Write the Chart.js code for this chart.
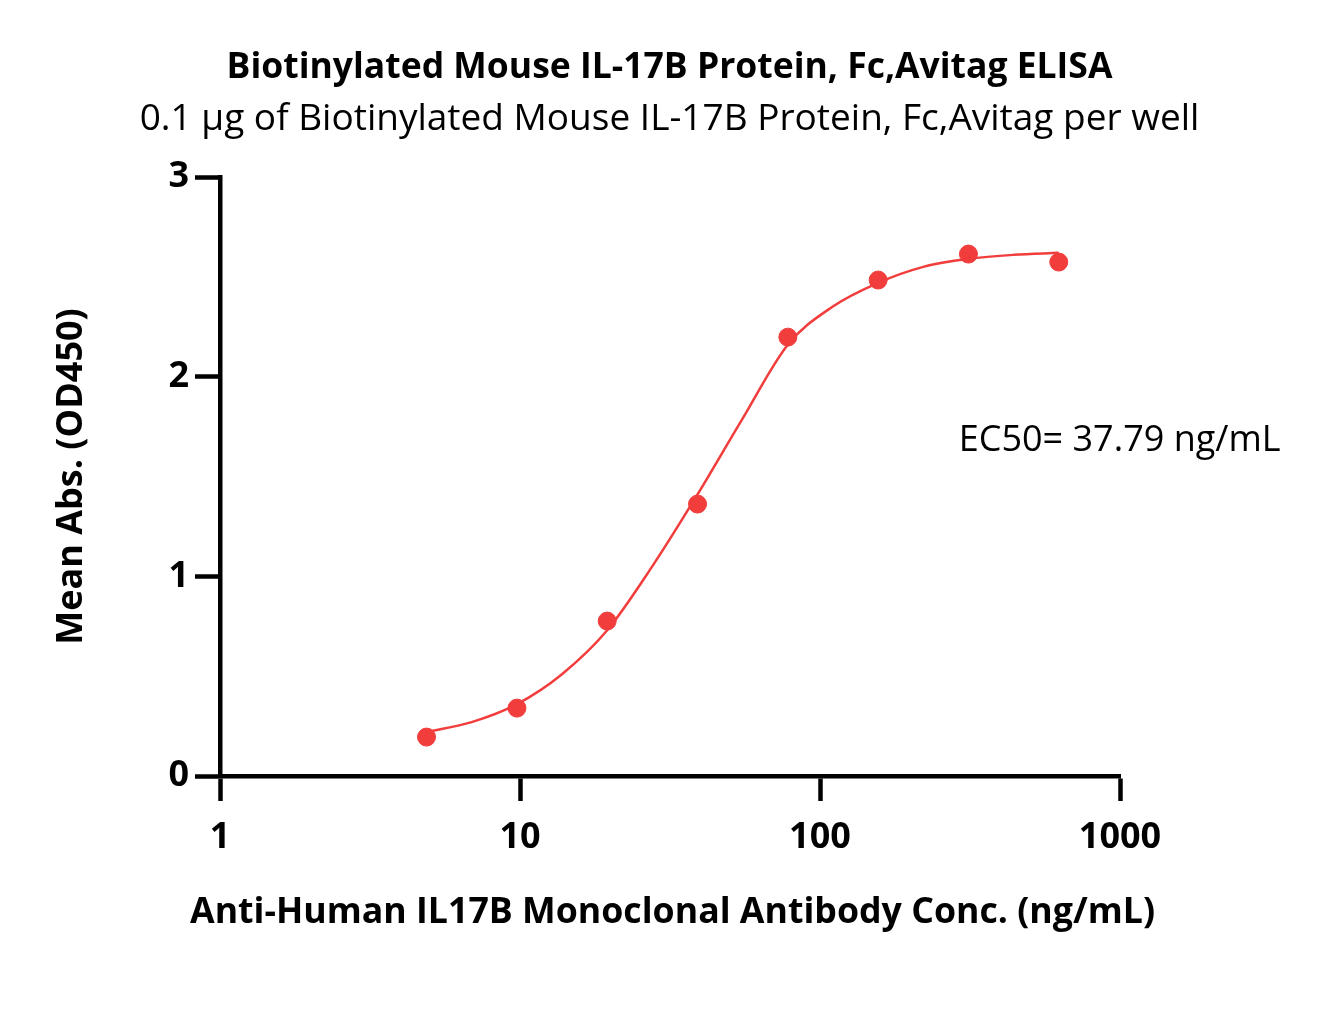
<!DOCTYPE html>
<html lang="en">
<head>
    <meta charset="UTF-8">
    <title>IL-17B ELISA</title>
    <script src="https://cdn.jsdelivr.net/npm/chart.js"></script>
    <style>
        body { margin: 0; background: #fff; }
        .box { width: 1327px; height: 1032px; position: relative; }
    </style>
</head>
<body>
    <div class="box">
        <canvas id="grafico"></canvas>
    </div>

<script>
    // measured points
    const conc = [4.88, 9.77, 19.53, 39.06, 78.13, 156.25, 312.5, 625];
    const absorb = [0.195, 0.34, 0.776, 1.362, 2.198, 2.484, 2.614, 2.574];

    // fitted curve
    const curveConc = [4.88, 6.9, 9.77, 13.8, 19.53, 27.6, 39.06, 55.2, 78.13, 110, 156.25, 221, 312.5, 442, 625];
    const curveAbs = [0.22, 0.27, 0.36, 0.51, 0.73, 1.05, 1.41, 1.79, 2.16, 2.35, 2.47, 2.55, 2.59, 2.61, 2.62];

    const xTicks = [1, 10, 100, 1000];
    const yTicks = [0, 1, 2, 3];

    const ec50Label = 'EC50= 37.79 ng/mL';
    const xTitulo = 'Anti-Human IL17B Monoclonal Antibody Conc. (ng/mL)';

    const vermelho = '#F23D3D';
    const fonte = 'Open Sans';

    // EC50 note and x title (the x title is wider than the plot, so it is drawn here)
    const textosPlugin = {
        id: 'textos',
        afterDraw(chart) {
            const ctx = chart.ctx;
            const xs = chart.scales.x;
            const x = xs.getPixelForValue(290);
            const y = chart.scales.y.getPixelForValue(1.68);
            ctx.save();
            ctx.fillStyle = '#000';
            ctx.font = '36px "' + fonte + '"';
            ctx.textAlign = 'left';
            ctx.textBaseline = 'middle';
            ctx.fillText(ec50Label, x, y);

            ctx.font = 'bold 35.7px "' + fonte + '"';
            ctx.textAlign = 'center';
            ctx.fillText(xTitulo, (xs.left + xs.right) / 2 + 2.5, xs.bottom - 119);
            ctx.restore();
        }
    };

    new Chart(document.getElementById('grafico'), {
        type: 'scatter',
        data: {
            datasets: [{
                data: curveConc.map((c, i) => ({ x: c, y: curveAbs[i] })),
                showLine: true,
                borderColor: vermelho,
                borderWidth: 2.5,
                pointRadius: 0,
                cubicInterpolationMode: 'monotone',
            }, {
                data: conc.map((c, i) => ({ x: c, y: absorb[i] })),
                backgroundColor: vermelho,
                borderColor: vermelho,
                pointRadius: 9,
                showLine: false,
            }]
        },
        options: {
            responsive: true,
            maintainAspectRatio: false,
            animation: false,
            layout: { padding: { left: 12, right: 0, top: 0, bottom: 0 } },
            scales: {
                x: {
                    type: 'logarithmic',
                    min: 1,
                    max: 1000,
                    afterBuildTicks: (scale) => { scale.ticks = xTicks.map(v => ({ value: v })); },
                    afterFit: (scale) => { scale.height = 256; },
                    ticks: {
                        color: '#000',
                        padding: 15,
                        font: { family: fonte, size: 36, weight: 'bold' },
                        callback: (v) => String(v),
                    },
                    grid: { drawOnChartArea: false, drawTicks: true, tickLength: 25, tickWidth: 4.5, tickColor: '#000' },
                    border: { color: '#000', width: 4.5 },
                    title: { display: false }
                },
                y: {
                    min: 0,
                    max: 3,
                    afterBuildTicks: (scale) => { scale.ticks = yTicks.map(v => ({ value: v })); },
                    afterFit: (scale) => { scale.width = 208; },
                    ticks: {
                        color: '#000',
                        padding: 6,
                        font: { family: fonte, size: 36, weight: 'bold' },
                    },
                    grid: { drawOnChartArea: false, drawTicks: true, tickLength: 25, tickWidth: 4.5, tickColor: '#000' },
                    border: { color: '#000', width: 4.5 },
                    title: {
                        display: true,
                        text: 'Mean Abs. (OD450)',
                        color: '#000',
                        padding: { top: 38.4, bottom: 0 },
                        font: { family: fonte, size: 36, weight: 'bold' }
                    }
                },
                // empty strip on the right, keeps titles centred on the page
                derecha: {
                    position: 'right',
                    display: true,
                    afterFit: (scale) => { scale.width = 207; },
                    ticks: { display: false },
                    grid: { display: false },
                    border: { display: false }
                }
            },
            plugins: {
                legend: { display: false },
                tooltip: { enabled: false },
                title: {
                    display: true,
                    text: 'Biotinylated Mouse IL-17B Protein, Fc,Avitag ELISA',
                    color: '#000',
                    padding: { top: 47, bottom: 4 },
                    font: { family: fonte, size: 35.5, weight: 'bold' }
                },
                subtitle: {
                    display: true,
                    text: '0.1 µg of Biotinylated Mouse IL-17B Protein, Fc,Avitag per well',
                    color: '#000',
                    padding: { top: 3.4, bottom: 35.6 },
                    font: { family: fonte, size: 37 }
                }
            }
        },
        plugins: [textosPlugin]
    });
</script>
</body>
</html>
